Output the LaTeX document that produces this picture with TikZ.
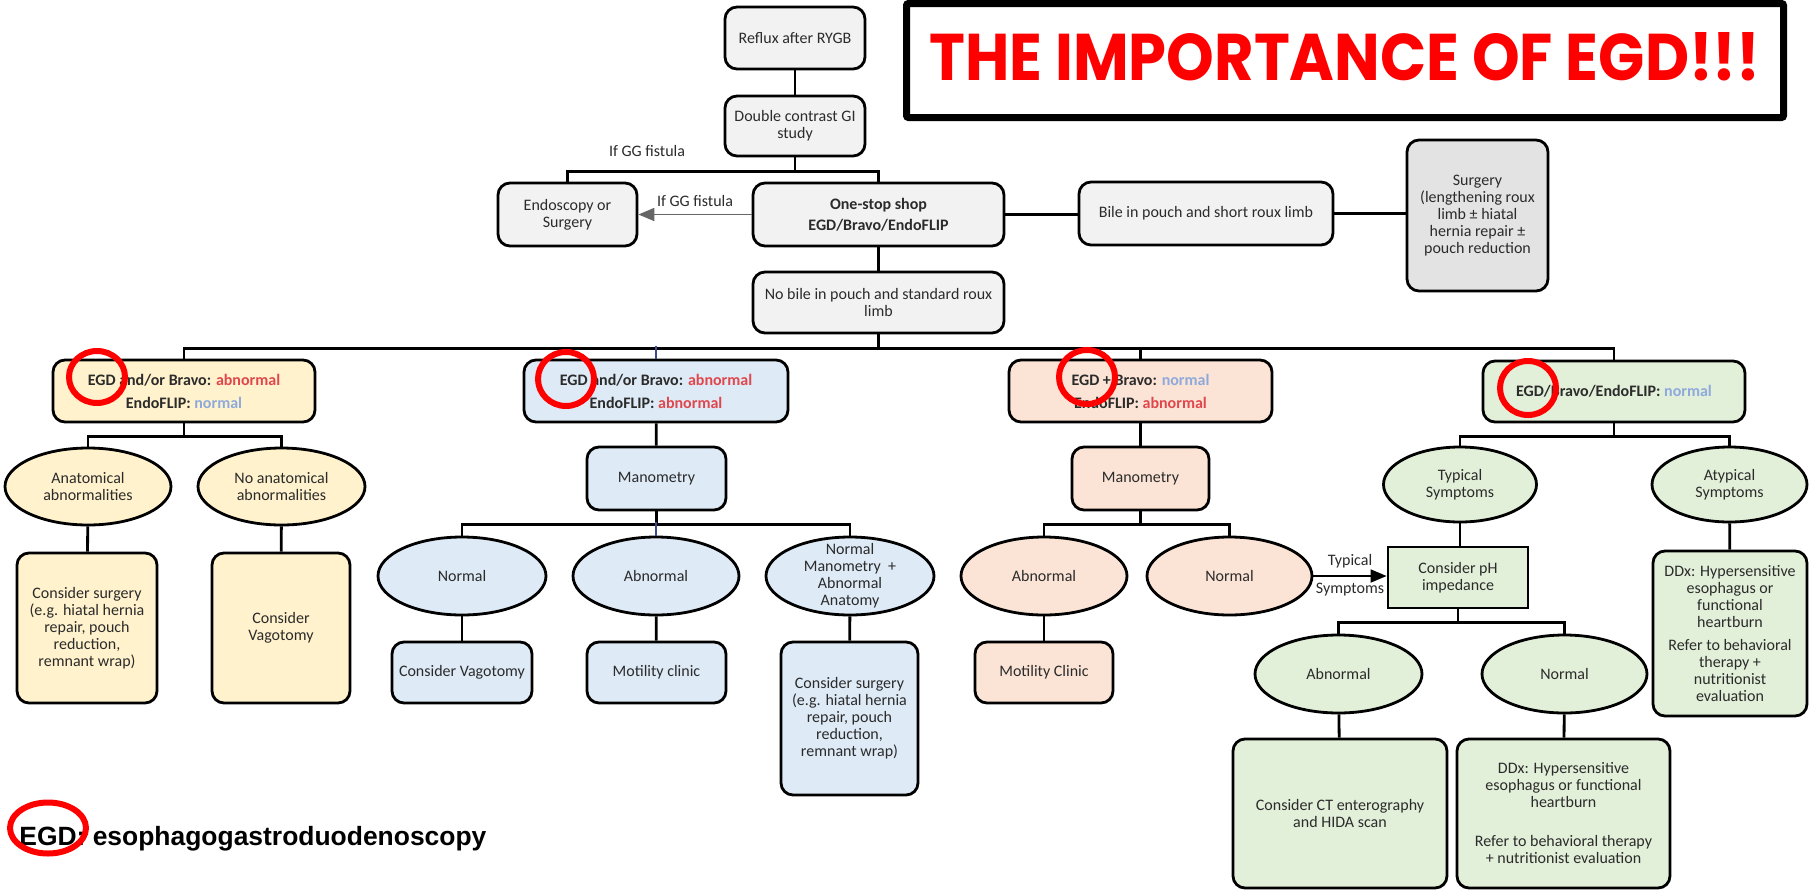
\documentclass[tikz,border=0pt]{standalone}
\usepackage{fontspec}
\usepackage{graphicx}
\setmainfont{Carlito}
\newfontfamily\titlefont{Poppins}
\newfontfamily\footfont{Liberation Sans}
\usetikzlibrary{shapes.geometric, arrows.meta}

\definecolor{gfill}{HTML}{F2F2F2}
\definecolor{sfill}{HTML}{E3E3E3}
\definecolor{yel}{HTML}{FFF2CC}
\definecolor{blu}{HTML}{DEEAF6}
\definecolor{pch}{HTML}{FBE4D5}
\definecolor{grn}{HTML}{E2EFD9}
\definecolor{abn}{HTML}{E0474C}
\definecolor{nrm}{HTML}{8EAADB}
\definecolor{txt}{HTML}{2B2B2B}
\definecolor{navy}{HTML}{3A4A8C}

\begin{document}
\begin{tikzpicture}[x=0.5pt, y=-0.5pt, line width=1.4pt,
    > = {Triangle[length=8pt, width=6.5pt]},
    every node/.style={font=\fontsize{8}{8.5}\selectfont, text=txt},
    box/.style={draw, rounded corners=6pt, align=center},
    sbox/.style={draw, align=center},
    ell/.style={draw, ellipse, inner sep=-8pt, align=center},
    hd/.style={font=\fontsize{8}{8.5}\selectfont\bfseries},
    ring/.style={draw=red, line width=3pt}]
  \fill[white] (0,0) rectangle (1811,895);
  \useasboundingbox (0,0) rectangle (1811,895);

  % top of the chart
  \node[draw, line width=3.5pt, rounded corners=1pt, minimum width=438.5pt, minimum height=57pt, text depth=4.5pt] (title) at (1345,60.5)
    {\resizebox{415.5pt}{24pt}{\color{red}\titlefont\bfseries THE IMPORTANCE OF EGD!!!}};
  \node[box, fill=gfill, minimum width=70pt, minimum height=31pt] (reflux) at (795,38) {Reflux after RYGB};
  \node[box, fill=gfill, minimum width=70pt, minimum height=30pt] (gi) at (795,126) {Double contrast GI\\study};
  \node[box, fill=gfill, minimum width=69.5pt, minimum height=31.5pt] (endo) at (567.5,214.5) {Endoscopy or\\Surgery};
  \node[box, hd, fill=gfill, minimum width=125.5pt, minimum height=31.5pt] (onestop) at (878.5,214.5) {One-stop shop\\[2pt]EGD/Bravo/EndoFLIP};
  \node[box, fill=gfill, minimum width=125.5pt, minimum height=30.5pt] (nobile) at (878.5,302.5) {No bile in pouch and standard roux\\limb};
  \node[box, fill=gfill, minimum width=127pt, minimum height=31.5pt] (bile) at (1206,213.5) {Bile in pouch and short roux limb};
  \node[box, fill=sfill, minimum width=70.5pt, minimum height=75.5pt] (surg) at (1477.5,215.5)
    {Surgery\\(lengthening roux\\limb ± hiatal\\hernia repair ±\\pouch reduction};
  \node (ggtop) at (647,151) {If GG fistula};

  \draw (reflux) -- (gi);
  \draw (gi.south) -- ++(0,14) -| (endo.north);
  \draw (gi.south) -- ++(0,14) -| (onestop.north);
  \draw[->, line width=0.9pt, draw=black!60] (onestop.west) -- (endo.east) node[midway, above] {If GG fistula};
  \draw (onestop.east) -- (onestop.east -| bile.west);
  \draw (bile.east) -- (bile.east -| surg.west);
  \draw (onestop) -- (nobile);

  % four branches
  \node[box, hd, fill=yel, minimum width=131pt, minimum height=31pt] (a) at (184,391)
    {EGD and/or Bravo: \textcolor{abn}{abnormal}\\[3pt]EndoFLIP: \textcolor{nrm}{normal}};
  \node[box, hd, fill=blu, minimum width=132pt, minimum height=31pt] (b) at (656,391)
    {EGD and/or Bravo: \textcolor{abn}{abnormal}\\[3pt]EndoFLIP: \textcolor{abn}{abnormal}};
  \node[box, hd, fill=pch, minimum width=131.5pt, minimum height=31pt] (c) at (1140.5,391)
    {EGD + Bravo: \textcolor{nrm}{normal}\\[3pt]EndoFLIP: \textcolor{abn}{abnormal}};
  \node[box, hd, fill=grn, minimum width=131pt, minimum height=30.5pt] (d) at (1614,391.5)
    {EGD/Bravo/EndoFLIP: \textcolor{nrm}{normal}};
  \foreach \n in {a,c,d}
    \draw (nobile.south) -- ++(0,14) -| (\n.north);
  \draw (nobile.south) -- ++(0,14) -| (b.north |- 0,347);
  \draw[line width=0.6pt, navy] (b.north) -- ++(0,-13);

  % branch a
  \node[ell, fill=yel, minimum width=83pt, minimum height=38.5pt] (a1) at (88,486.5) {Anatomical\\abnormalities};
  \node[ell, fill=yel, minimum width=83.5pt, minimum height=38.5pt] (a2) at (281.5,486.5) {No anatomical\\abnormalities};
  \node[box, fill=yel, minimum width=70pt, minimum height=75pt] (a1x) at (87,628)
    {Consider surgery\\(e.g. hiatal hernia\\repair, pouch\\reduction,\\remnant wrap)};
  \node[box, fill=yel, minimum width=69pt, minimum height=75pt] (a2x) at (281,628) {Consider\\Vagotomy};
  \foreach \n in {a1,a2}
    \draw (a.south) -- ++(0,13) -| (\n.north);
  \draw (a1) -- (a1x);
  \draw (a2) -- (a2x);

  % branch b
  \node[box, fill=blu, minimum width=69.5pt, minimum height=31.5pt] (bm) at (656.5,478.5) {Manometry};
  \node[ell, fill=blu, minimum width=84pt, minimum height=39pt] (b1) at (462,576) {Normal};
  \node[ell, fill=blu, minimum width=83pt, minimum height=39pt] (b2) at (656,576) {Abnormal};
  \node[ell, fill=blu, minimum width=84pt, minimum height=39pt] (b3) at (850,576) {Normal\\Manometry\ \ +\\Abnormal\\Anatomy};
  \node[box, fill=blu, minimum width=70pt, minimum height=30.5pt] (b1x) at (462,672.5) {Consider Vagotomy};
  \node[box, fill=blu, minimum width=69.5pt, minimum height=30.5pt] (b2x) at (656.5,672.5) {Motility clinic};
  \node[box, fill=blu, minimum width=68.5pt, minimum height=76.5pt] (b3x) at (849.5,718.5)
    {Consider surgery\\(e.g. hiatal hernia\\repair, pouch\\reduction,\\remnant wrap)};
  \draw (b) -- (bm);
  \foreach \n in {b1,b3}
    \draw (bm.south) -- ++(0,13) -| (\n.north);
  \draw (bm.south) -- ++(0,13);
  \draw[line width=0.6pt, navy] (b2.north) -- ++(0,-14);
  \draw (b1) -- (b1x);
  \draw (b2) -- (b2x);
  \draw (b3) -- (b3x);

  % branch c
  \node[box, fill=pch, minimum width=68.5pt, minimum height=31.5pt] (cm) at (1140.5,478.5) {Manometry};
  \node[ell, fill=pch, minimum width=83pt, minimum height=39pt] (c1) at (1044,576) {Abnormal};
  \node[ell, fill=pch, minimum width=82.5pt, minimum height=39pt] (c2) at (1229.5,576) {Normal};
  \node[box, fill=pch, minimum width=69pt, minimum height=30.5pt] (c1x) at (1044,672.5) {Motility Clinic};
  \draw (c) -- (cm);
  \foreach \n in {c1,c2}
    \draw (cm.south) -- ++(0,13) -| (\n.north);
  \draw (c1) -- (c1x);

  % branch d
  \node[ell, fill=grn, minimum width=76.5pt, minimum height=37.5pt] (d1) at (1460,484.5) {Typical\\Symptoms};
  \node[ell, fill=grn, minimum width=77.5pt, minimum height=37.5pt] (d2) at (1729.5,484.5) {Atypical\\Symptoms};
  \node[sbox, fill=grn, minimum width=70pt, minimum height=30.5pt] (ph) at (1458,577.5) {Consider pH\\impedance};
  \node[box, fill=grn, minimum width=77pt, minimum height=82.5pt] (d2x) at (1730,633.5)
    {DDx: Hypersensitive\\esophagus or\\functional\\heartburn\\[3pt]Refer to behavioral\\therapy +\\nutritionist\\evaluation};
  \node[ell, fill=grn, minimum width=83.5pt, minimum height=39pt] (d11) at (1338.5,674) {Abnormal};
  \node[ell, fill=grn, minimum width=82.5pt, minimum height=39pt] (d12) at (1564.5,674) {Normal};
  \node[box, fill=grn, minimum width=107pt, minimum height=74.5pt] (d11x) at (1340,813.5)
    {Consider CT enterography\\and HIDA scan};
  \node[box, fill=grn, minimum width=106.5pt, minimum height=74.5pt] (d12x) at (1563.5,813.5)
    {DDx: Hypersensitive\\esophagus or functional\\heartburn\\[11pt]Refer to behavioral therapy\\+ nutritionist evaluation};
  \foreach \n in {d1,d2}
    \draw (d.south) -- ++(0,13) -| (\n.north);
  \draw (d1.south) -- (d1.south |- ph.north);
  \draw (d2) -- (d2x);
  \foreach \n in {d11,d12}
    \draw (ph.south) -- ++(0,13) -| (\n.north);
  \draw (d11) -- (d11x);
  \draw (d12) -- (d12x);
  \draw[->, line width=0.9pt] (c2.east) -- (c2.east -| ph.west)
    node[midway, above] {Typical} node[midway, below] {Symptoms};

  % footnote
  \node[anchor=base west, inner sep=0pt] (foot) at (18,845)
    {\resizebox{233.5pt}{!}{\footfont\bfseries\color{black}EGD: esophagogastroduodenoscopy}};

  % red rings
  \draw[ring] (97,377) ellipse [x radius=14pt, y radius=13pt];
  \draw[ring] (566,379) ellipse [x radius=14pt, y radius=13.5pt];
  \draw[ring] (1087,377) ellipse [x radius=14pt, y radius=13.5pt];
  \draw[ring] (1528,388) ellipse [x radius=14pt, y radius=13.5pt];
  \draw[ring] (48,828) ellipse [x radius=19pt, y radius=12.75pt];
\end{tikzpicture}
\end{document}
